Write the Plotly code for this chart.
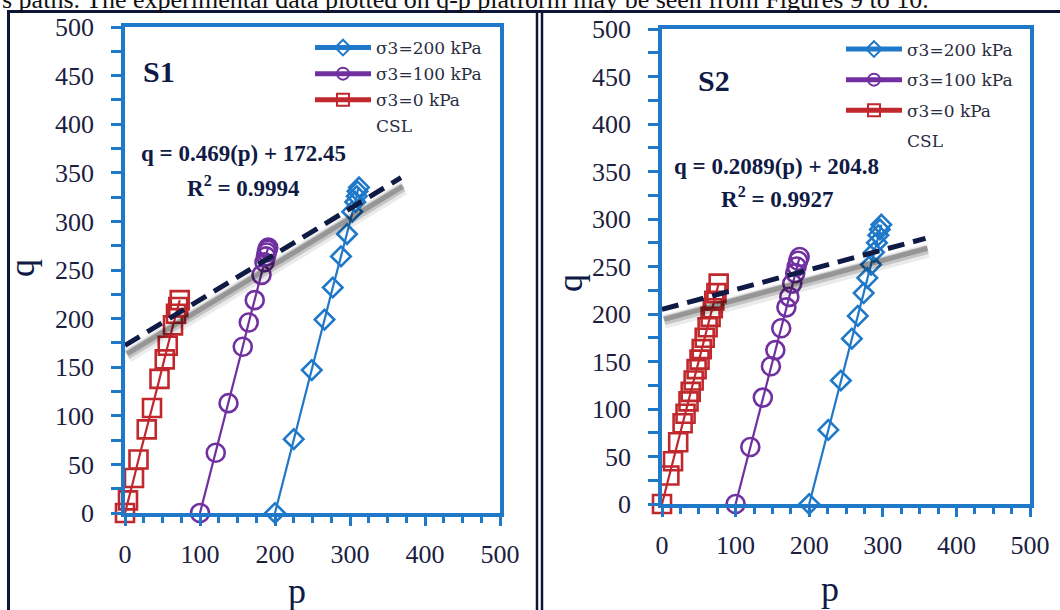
import plotly.graph_objects as go

W, H = 1060, 610

# ---------------- data ----------------
# S1 panel
s1_p200 = [200, 225, 249, 266, 277, 288, 296, 303, 307, 309, 310, 312]
s1_q200 = [0, 76, 147, 199, 232, 264, 287, 310, 320, 326, 331, 335]
s1_p100 = [100, 121, 138, 157, 165, 173, 182, 186, 188, 189, 190, 191]
s1_q100 = [0, 62, 113, 171, 196, 219, 245, 258, 264, 268, 271, 273]
s1_p0 = [0, 4, 12, 18, 29, 36, 46, 53, 57, 64, 68, 71, 73]
s1_q0 = [0, 13, 36, 55, 86, 108, 138, 158, 172, 193, 205, 212, 219]
s1_slope, s1_icept = 0.469, 172.45
s1_csl_p = [0, 368]

# S2 panel
s2_p200 = [200, 226, 243, 258, 266, 274, 279, 284, 288, 292, 294, 296, 298]
s2_q200 = [0, 78, 130, 174, 198, 222, 238, 252, 265, 275, 283, 289, 294]
s2_p100 = [100, 120, 137, 148, 154, 162, 169, 173, 177, 181, 183, 185, 187]
s2_q100 = [0, 60, 112, 145, 162, 185, 207, 218, 232, 243, 250, 256, 260]
s2_p0 = [0, 10, 15, 22, 28, 32, 36, 39, 43, 47, 51, 54, 58, 62, 66, 69, 71, 74, 77]
s2_q0 = [0, 30, 45, 65, 85, 95, 108, 118, 130, 142, 152, 163, 175, 186, 197, 206, 214, 222, 232]
s2_slope, s2_icept = 0.2089, 204.8
s2_csl_p = [0, 358]

series_names = ["σ3=200 kPa", "σ3=100 kPa", "σ3=0 kPa", "CSL"]
axis_ticks_x = [0, 100, 200, 300, 400, 500]
axis_ticks_y = [0, 50, 100, 150, 200, 250, 300, 350, 400, 450, 500]

# ---------------- styles ----------------
BLUE = "#1f78c8"
PURPLE = "#7030a0"
RED = "#c0282d"
NAVY = "#0f1a45"
TXT = "#1b2040"
FRAME = "#0d1636"
SERIF = "Liberation Serif"

fig = go.Figure()


def add_panel(xa, ya, legend, p200, q200, p100, q100, p0, q0, slope, icept, csl_p, shadow_dq):
    common = dict(xaxis=xa, yaxis=ya, legend=legend, cliponaxis=False, mode="lines+markers")
    fig.add_trace(go.Scatter(x=p200, y=q200, name=series_names[0], legendgroup=legend + "a",
                             line=dict(color=BLUE, width=2.2),
                             marker=dict(symbol="diamond-open", size=15, color=BLUE, line=dict(width=2.6)),
                             **common))
    fig.add_trace(go.Scatter(x=p100, y=q100, name=series_names[1], legendgroup=legend + "b",
                             line=dict(color=PURPLE, width=2.2),
                             marker=dict(symbol="circle-open", size=18, color=PURPLE, line=dict(width=2.6)),
                             **common))
    fig.add_trace(go.Scatter(x=p0, y=q0, name=series_names[2], legendgroup=legend + "c",
                             line=dict(color=RED, width=2.2),
                             marker=dict(symbol="square-open", size=18, color=RED, line=dict(width=2.6)),
                             **common))
    csl_q = [slope * p + icept for p in csl_p]
    # soft shadow of the CSL line
    for w, a, d in [(14, 0.08, 1.0), (9, 0.16, 0.9), (5, 0.24, 0.8)]:
        fig.add_trace(go.Scatter(x=[p + 3 for p in csl_p], y=[q - shadow_dq * d for q in csl_q],
                                 mode="lines", line=dict(color=f"rgba(0,0,0,{a})", width=w),
                                 hoverinfo="skip", showlegend=False, xaxis=xa, yaxis=ya))
    fig.add_trace(go.Scatter(x=csl_p, y=csl_q, mode="lines", showlegend=False,
                             line=dict(color=NAVY, width=5, dash="17px,9px"),
                             xaxis=xa, yaxis=ya, cliponaxis=False))
    # CSL legend entry (no visible symbol in the reference)
    fig.add_trace(go.Scatter(x=[None], y=[None], mode="lines", name=series_names[3],
                             legendgroup=legend + "d", legend=legend,
                             line=dict(color="rgba(0,0,0,0)", width=1), xaxis=xa, yaxis=ya))


add_panel("x", "y", "legend", s1_p200, s1_q200, s1_p100, s1_q100, s1_p0, s1_q0,
          s1_slope, s1_icept, s1_csl_p, 11)
add_panel("x2", "y2", "legend2", s2_p200, s2_q200, s2_p100, s2_q100, s2_p0, s2_q0,
          s2_slope, s2_icept, s2_csl_p, 13)

xd1 = [125 / W, 500 / W]
yd1 = [1 - 513 / H, 1 - 27 / H]
xd2 = [662 / W, 1030 / W]
yd2 = [1 - 504 / H, 1 - 29 / H]

axis_common = dict(range=[0, 500], showline=True, mirror=True, linecolor=BLUE, linewidth=3.5,
                   showgrid=False, zeroline=False, ticks="outside", tickcolor=BLUE, tickwidth=2.5,
                   tickfont=dict(family=SERIF, size=26, color=TXT), fixedrange=True, automargin=False)

xcommon = dict(axis_common, tickvals=axis_ticks_x, ticklen=9, ticklabelstandoff=6,
               minor=dict(dtick=25, ticks="outside", ticklen=6, tickcolor=BLUE, tickwidth=2.5))
ycommon = dict(axis_common, tickvals=axis_ticks_y, ticklen=10, ticklabelstandoff=12,
               minor=dict(dtick=25, ticks="outside", ticklen=10, tickcolor=BLUE, tickwidth=2.5))

fig.update_layout(
    width=W, height=H, margin=dict(l=0, r=0, t=0, b=0, pad=0, autoexpand=False),
    paper_bgcolor="white", plot_bgcolor="white",
    xaxis=dict(xcommon, domain=xd1, anchor="y"),
    yaxis=dict(ycommon, domain=yd1, anchor="x"),
    xaxis2=dict(xcommon, domain=xd2, anchor="y2"),
    yaxis2=dict(ycommon, domain=yd2, anchor="x2"),
    legend=dict(x=310 / W, y=1 - 30 / H, xanchor="left", yanchor="top", bgcolor="rgba(0,0,0,0)",
                font=dict(family="DejaVu Serif", size=17, color="#2a2d40"),
                itemwidth=56, itemsizing="constant", traceorder="grouped", tracegroupgap=1),
    legend2=dict(x=841 / W, y=1 - 31.5 / H, xanchor="left", yanchor="top", bgcolor="rgba(0,0,0,0)",
                 font=dict(family="DejaVu Serif", size=17, color="#2a2d40"),
                 itemwidth=56, itemsizing="constant", traceorder="grouped", tracegroupgap=5.5),
    showlegend=True,
)

ann = []


def px(x, y, text, size, bold=False, angle=0, family=SERIF, color=TXT, xanchor="center", yanchor="middle"):
    t = f"<b>{text}</b>" if bold else text
    ann.append(dict(x=x / W, y=1 - y / H, xref="paper", yref="paper", text=t, showarrow=False,
                    textangle=angle, font=dict(family=family, size=size, color=color),
                    xanchor=xanchor, yanchor=yanchor))


px(159, 72, "S1", 30, bold=True, color=NAVY)
px(714, 80, "S2", 30, bold=True, color=NAVY)
px(243, 154, "q = 0.469(p) + 172.45", 23, bold=True, color=NAVY)
px(243, 187, "R<sup>2</sup> = 0.9994", 23, bold=True, color=NAVY)
px(776, 167, "q = 0.2089(p) + 204.8", 23, bold=True, color=NAVY)
px(777, 197, "R<sup>2</sup> = 0.9927", 23, bold=True, color=NAVY)
px(297, 591, "p", 36, color=NAVY)
px(830, 589, "p", 36, color=NAVY)
px(22, 268, "q", 36, angle=-90, color=NAVY)
px(570, 283, "q", 36, angle=-90, color=NAVY)
# partially visible document text above the figure
ann.append(dict(x=0, y=1, xref="paper", yref="paper", xanchor="left", yanchor="bottom", yshift=-16,
                text="s paths. The experimental data plotted on q-p platform may be seen from Figures 9 to 10.",
                showarrow=False, font=dict(family=SERIF, size=26, color="#111111")))
fig.update_layout(annotations=ann)

# document frame lines
shapes = [
    dict(type="line", xref="paper", yref="paper", x0=8 / W, x1=1, y0=1 - 11.5 / H, y1=1 - 11.5 / H,
         line=dict(color=FRAME, width=3)),
    dict(type="line", xref="paper", yref="paper", x0=8.5 / W, x1=8.5 / W, y0=0, y1=1 - 10 / H,
         line=dict(color=FRAME, width=3)),
    dict(type="line", xref="paper", yref="paper", x0=537 / W, x1=537 / W, y0=0, y1=1 - 10 / H,
         line=dict(color=FRAME, width=2.5)),
    dict(type="line", xref="paper", yref="paper", x0=542 / W, x1=542 / W, y0=0, y1=1 - 10 / H,
         line=dict(color=FRAME, width=2.5)),
]
fig.update_layout(shapes=shapes)

fig.write_html("out.html")
